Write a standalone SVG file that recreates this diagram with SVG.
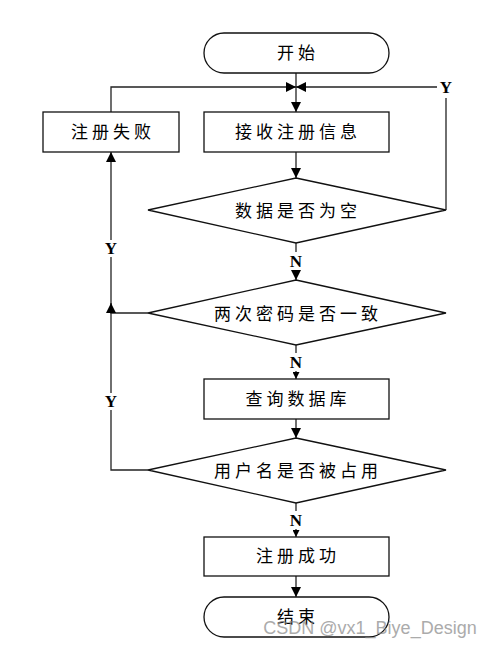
<svg xmlns="http://www.w3.org/2000/svg" width="494" height="646" viewBox="0 0 494 646">
<style>
.s{fill:#fff;stroke:#111;stroke-width:1.3}
.t{font-family:"Noto Sans CJK SC","Noto Sans",sans-serif;font-size:17px;letter-spacing:4px;text-anchor:middle;fill:#000}
.l{font-family:"Liberation Serif",serif;font-size:17px;font-weight:bold;text-anchor:middle;fill:#000}
.c{fill:none;stroke:#222;stroke-width:1.3}
</style>
<defs>
<marker id="a" markerWidth="10" markerHeight="10" refX="10" refY="5" orient="auto" markerUnits="userSpaceOnUse"><path d="M0,0 L10,5 L0,10 Z" fill="#000"/></marker>
<marker id="b" markerWidth="7" markerHeight="7" refX="7" refY="3.5" orient="auto" markerUnits="userSpaceOnUse"><path d="M0,0 L7,3.5 L0,7 Z" fill="#000"/></marker>
</defs>
<g id="connectors">
<line class="c" x1="296" y1="73" x2="296" y2="112" marker-end="url(#a)"/>
<polyline class="c" points="111,112 111,87 296,87" marker-end="url(#a)"/>
<line class="c" x1="437" y1="87" x2="296" y2="87" marker-end="url(#a)"/>
<polyline class="c" points="446,98 446,210"/>
<line class="c" x1="296" y1="152" x2="296" y2="178" marker-end="url(#a)"/>
<line class="c" x1="296" y1="243" x2="296" y2="252"/>
<line class="c" x1="296" y1="270" x2="296" y2="280" marker-end="url(#a)"/>
<line class="c" x1="111" y1="240" x2="111" y2="152" marker-end="url(#a)"/>
<line class="c" x1="111" y1="313" x2="111" y2="257"/>
<polyline class="c" points="148,313 111,313 111,303" marker-end="url(#a)"/>
<polyline class="c" points="148,470 111,470 111,410"/>
<line class="c" x1="111" y1="393" x2="111" y2="313"/>
<line class="c" x1="296" y1="345" x2="296" y2="353"/>
<line class="c" x1="296" y1="371" x2="296" y2="379" marker-end="url(#b)"/>
<line class="c" x1="296" y1="419" x2="296" y2="438" marker-end="url(#a)"/>
<line class="c" x1="296" y1="503" x2="296" y2="511"/>
<line class="c" x1="296" y1="529" x2="296" y2="537" marker-end="url(#b)"/>
<line class="c" x1="296" y1="576" x2="296" y2="597" marker-end="url(#a)"/>
<text class="l" x="446" y="93">Y</text>
<text class="l" x="111" y="254">Y</text>
<text class="l" x="111" y="407">Y</text>
<text class="l" x="296" y="267">N</text>
<text class="l" x="296" y="368">N</text>
<text class="l" x="296" y="526">N</text>
</g>
<g id="start"><rect class="s" x="204" y="33" width="185" height="40" rx="20"/><text class="t" x="298" y="59">开始</text></g>
<g id="fail"><rect class="s" x="43" y="112" width="136" height="40"/><text class="t" x="113" y="138">注册失败</text></g>
<g id="receive"><rect class="s" x="204" y="112" width="185" height="40"/><text class="t" x="298" y="138">接收注册信息</text></g>
<g id="empty"><polygon class="s" points="296,178 446,210 296,243 148,210"/><text class="t" x="298" y="217">数据是否为空</text></g>
<g id="pwd"><polygon class="s" points="296,280 446,313 296,345 148,313"/><text class="t" x="298" y="320">两次密码是否一致</text></g>
<g id="query"><rect class="s" x="204" y="379" width="185" height="40"/><text class="t" x="298" y="405">查询数据库</text></g>
<g id="taken"><polygon class="s" points="296,438 446,470 296,503 148,470"/><text class="t" x="298" y="477">用户名是否被占用</text></g>
<g id="ok"><rect class="s" x="204" y="537" width="185" height="39"/><text class="t" x="298" y="562">注册成功</text></g>
<g id="end"><rect class="s" x="204" y="597" width="185" height="40" rx="20"/><text class="t" x="298" y="623">结束</text></g>
<text x="370" y="634" font-family="Liberation Sans,sans-serif" font-size="18" text-anchor="middle" fill="#888" opacity="0.7">CSDN @vx1_Biye_Design</text>
</svg>
